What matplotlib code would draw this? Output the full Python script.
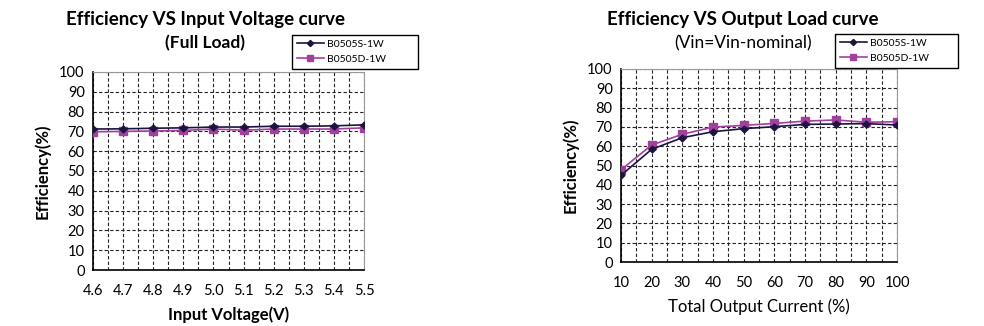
import matplotlib.pyplot as plt
from matplotlib.ticker import MultipleLocator

plt.rcParams['font.family'] = ['Lato', 'DejaVu Sans']

# DATA
vin = [4.6, 4.7, 4.8, 4.9, 5.0, 5.1, 5.2, 5.3, 5.4, 5.5]
eff_vin_s = [71.2, 71.3, 71.6, 71.8, 72.2, 72.2, 72.6, 72.6, 72.8, 73.3]
eff_vin_d = [69.8, 70.0, 70.2, 70.5, 71.2, 70.6, 71.2, 71.2, 71.2, 71.8]

load = [10, 20, 30, 40, 50, 60, 70, 80, 90, 100]
eff_load_s = [44.9, 58.4, 64.4, 67.5, 69.1, 70.1, 71.3, 71.5, 71.7, 71.0]
eff_load_d = [47.8, 60.6, 66.2, 69.9, 70.8, 71.8, 73.0, 73.6, 72.4, 72.7]

names = ["B0505S-1W", "B0505D-1W"]
dark = "#1c1440"
pink = "#a2409e"

W, H = 984, 326
fig = plt.figure(figsize=(W / 100, H / 100), dpi=100)


def setup(ax, xmin, xmax, xstep, xfmt):
    ax.set_xlim(xmin, xmax)
    ax.set_ylim(0, 100)
    ax.xaxis.set_major_locator(MultipleLocator(xstep))
    ax.xaxis.set_minor_locator(MultipleLocator(xstep / 2))
    ax.yaxis.set_major_locator(MultipleLocator(10))
    ax.xaxis.set_major_formatter(xfmt)
    ax.grid(True, which='both', axis='x', color='#222222', linestyle=(0, (3, 2)), linewidth=0.8)
    ax.grid(True, which='major', axis='y', color='#222222', linestyle=(0, (3, 2)), linewidth=0.8)
    ax.tick_params(which='both', length=0, labelsize=10.5, colors='black')
    ax.tick_params(axis='x', pad=10)
    ax.tick_params(axis='y', pad=6)
    for s in ['left', 'bottom']:
        ax.spines[s].set_color('black')
        ax.spines[s].set_linewidth(1.2)
    for s in ['top', 'right']:
        ax.spines[s].set_color('#999999')
        ax.spines[s].set_linewidth(0.8)


def add_legend(h, x0, y0, x1, y1):
    fig.legend(h, names, loc='upper left',
               bbox_to_anchor=(x0 / W, 1 - y1 / H, (x1 - x0) / W, (y1 - y0) / H),
               mode='expand', borderaxespad=0, fancybox=False, framealpha=1,
               edgecolor='black', fontsize=7.5, handlelength=2.6, labelspacing=0.55,
               borderpad=0.45, handletextpad=0.3, markerscale=0.9)


# left chart
ax1 = fig.add_axes([93 / W, 1 - 270 / H, 271 / W, 198 / H])
setup(ax1, 4.6, 5.5, 0.1, lambda v, p: f"{v:.1f}")
l1, = ax1.plot(vin, eff_vin_s, color=dark, marker='D', markersize=3.5, linewidth=1.2, zorder=4)
l2, = ax1.plot(vin, eff_vin_d, color=pink, marker='s', markersize=5.5, linewidth=1.2, zorder=3)
ax1.set_xlabel("Input Voltage(V)", fontsize=12, fontweight='bold', labelpad=6)
ax1.set_ylabel("Efficiency(%)", fontsize=12, fontweight='bold', labelpad=6)
fig.text(205 / W, 1 - 20 / H, "Efficiency VS Input Voltage curve", ha='center', va='center',
         fontsize=13.5, fontweight='bold')
fig.text(205 / W, 1 - 43 / H, "(Full Load)", ha='center', va='center',
         fontsize=12.5, fontweight='bold')
add_legend([l1, l2], 292, 35, 418, 67)

# right chart
ax2 = fig.add_axes([621 / W, 1 - 262 / H, 276 / W, 193 / H])
setup(ax2, 10, 100, 10, lambda v, p: f"{v:.0f}")
r1, = ax2.plot(load, eff_load_s, color=dark, marker='D', markersize=3.5, linewidth=1.2, zorder=4)
r2, = ax2.plot(load, eff_load_d, color=pink, marker='s', markersize=5.5, linewidth=1.2, zorder=3)
ax2.set_xlabel("Total Output Current (%)", fontsize=12, labelpad=6)
ax2.set_ylabel("Efficiency(%)", fontsize=12, fontweight='bold', labelpad=6)
fig.text(743 / W, 1 - 20 / H, "Efficiency VS Output Load curve", ha='center', va='center',
         fontsize=13.5, fontweight='bold')
fig.text(743 / W, 1 - 43 / H, "(Vin=Vin-nominal)", ha='center', va='center', fontsize=12.5)
add_legend([r1, r2], 835, 34, 958, 65)

fig.savefig("out.png", dpi=100)
